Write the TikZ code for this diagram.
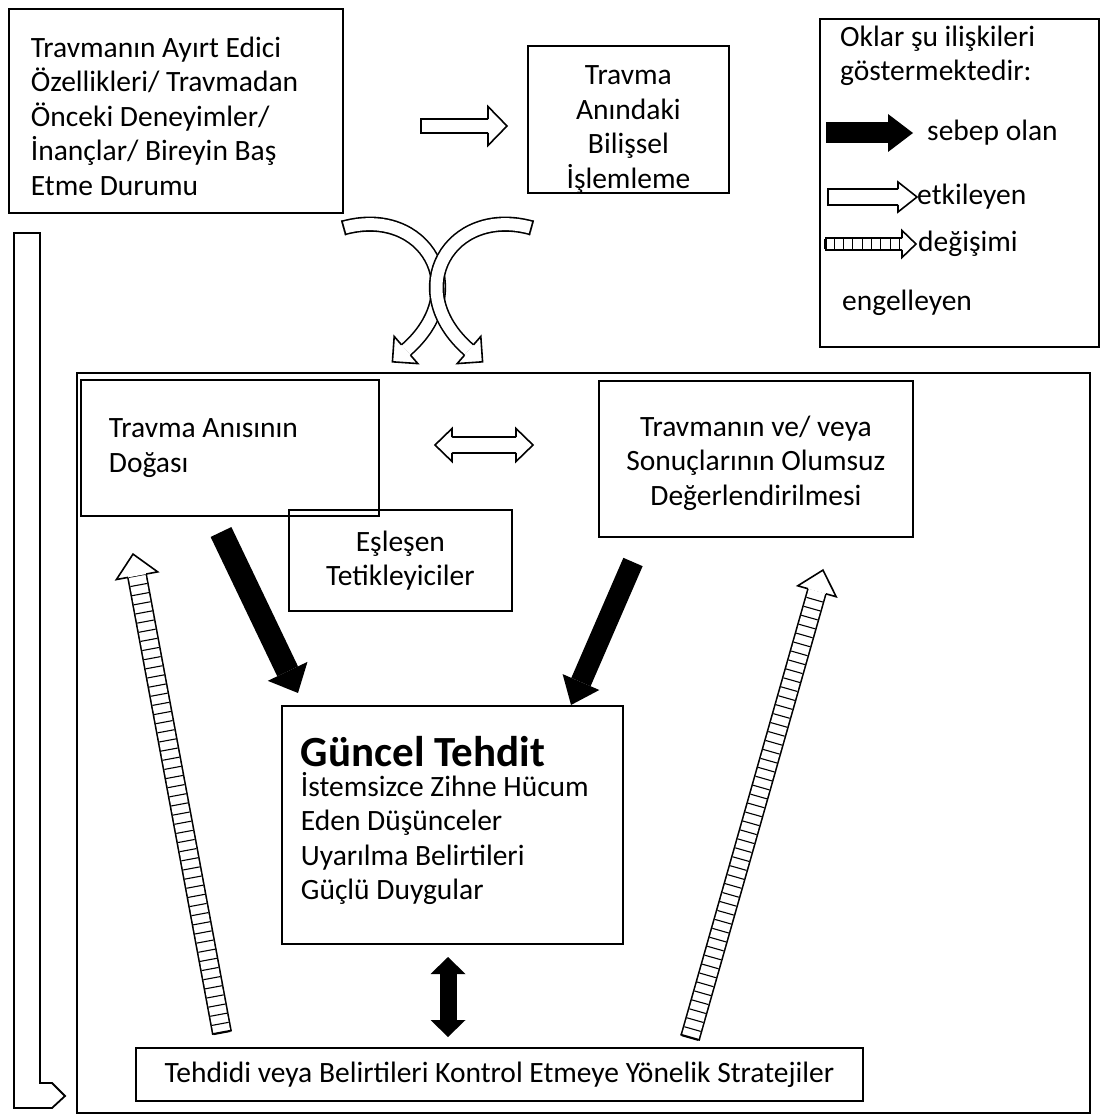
\documentclass[tikz,border=0pt]{standalone}
\usepackage{fontspec}
\setmainfont{Carlito}
\usepackage{tikz}
\usetikzlibrary{positioning}
\usetikzlibrary{calc}
\usetikzlibrary{decorations.markings}

% open arrow head: inner shaft width, head width, head length
\newcommand{\openhead}[3]{%
  \fill[white] (0pt,{-0.5*#2}) -- (#3,0pt) -- (0pt,{0.5*#2}) -- cycle;
  \draw[line width=1.6pt,line join=miter] (0pt,{0.5*#1+0.8pt}) -- (0pt,{0.5*#2}) -- (#3,0pt) -- (0pt,{-0.5*#2}) -- (0pt,{-0.5*#1-0.8pt});}

\tikzset{
    box/.style={draw,line width=1.8pt,inner sep=0pt,anchor=north west},
    hollow/.style={draw,line width=1.6pt,double=white,double distance=#1},
    tipopen/.style n args={3}{postaction={decorate,decoration={markings,
        mark=at position 0.9999 with {\openhead{#1}{#2}{#3}}}}},
    tailopen/.style n args={3}{postaction={decorate,decoration={markings,
        mark=at position 0 with {\begin{scope}[rotate=180]\openhead{#1}{#2}{#3}\end{scope}}}}},
    capped/.style={postaction={decorate,decoration={markings,
        mark=at position 0 with {\draw[line width=1.6pt] (0.8pt,{-0.5*#1-1.6pt}) -- (0.8pt,{0.5*#1+1.6pt});}}}},
    rungs/.style={postaction={decorate,decoration={markings,
        mark=between positions 0 and 1 step 9.3pt with {\draw[line width=1.1pt] (0pt,{-0.5*#1}) -- (0pt,{0.5*#1});}}}},
    fullhead/.style n args={2}{postaction={decorate,decoration={markings,
        mark=at position 0.9999 with {\fill (0pt,{-0.5*#1}) -- (#2,0pt) -- (0pt,{0.5*#1}) -- cycle;}}}},
    fullback/.style n args={2}{postaction={decorate,decoration={markings,
        mark=at position 0 with {\fill (0pt,{-0.5*#1}) -- (-#2,0pt) -- (0pt,{0.5*#1}) -- cycle;}}}}
}

\begin{document}
\begin{tikzpicture}[x=1pt,y=-1pt,font=\fontsize{29.5}{34.5}\selectfont]
    \useasboundingbox (0,0) rectangle (1101,1115);

    % boxes
    \node[box,minimum width=334pt,minimum height=204pt] (features) at (8,8) {};
    \node[text width=290pt,align=flush left,inner sep=0pt] (featurestext) at ($(features.center)+(0,5)$)
        {Travmanın Ayırt Edici\\ Özellikleri/ Travmadan\\ Önceki Deneyimler/\\ İnançlar/ Bireyin Baş\\ Etme Durumu};
    \node[box,minimum width=201pt,minimum height=147pt] (processing) at (527,45) {};
    \node[align=center,inner sep=0pt] (processingtext) at ($(processing.center)+(0,10)$)
        {Travma\\ Anındaki\\ Bilişsel\\ İşlemleme};
    \node[box,minimum width=279pt,minimum height=328pt] (legend) at (819,18) {};
    \node[box,minimum width=1013pt,minimum height=740pt] (frame) at (76,372) {};
    \node[box,minimum width=298pt,minimum height=136pt,text width=242pt,align=flush left] (memory) at (80,379)
        {Travma Anısının\\ Doğası};
    \node[box,minimum width=314pt,minimum height=156pt] (appraisal) at (598,380) {};
    \node[align=center,inner sep=0pt] (appraisaltext) at ($(appraisal.center)+(0,4)$)
        {Travmanın ve/ veya\\ Sonuçlarının Olumsuz\\ Değerlendirilmesi};
    \node[box,minimum width=223pt,minimum height=101pt,align=center] (triggers) at (288,509)
        {Eşleşen\\ Tetikleyiciler};
    \node[box,minimum width=341pt,minimum height=238pt] (threat) at (281,705) {};
    \node[text width=303pt,align=flush left,inner sep=0pt] (threattext) at ($(threat.center)+(0,-4)$)
        {{\fontsize{43}{45}\selectfont\bfseries Güncel Tehdit}\\[-5pt] İstemsizce Zihne Hücum\\ Eden Düşünceler\\ Uyarılma Belirtileri\\ Güçlü Duygular};
    \node[box,minimum width=727pt,minimum height=53pt] (strategies) at (135,1047)
        {Tehdidi veya Belirtileri Kontrol Etmeye Yönelik Stratejiler};

    % legend
    \node[anchor=west,align=flush left,inner sep=0pt] (legtitle) at (840,56) {Oklar şu ilişkileri\\ göstermektedir:};
    \coordinate (kbt) at (826,133);
    \coordinate (kbh) at (913,133);
    \coordinate (kwt) at (827,197);
    \coordinate (kwh) at (917,197);
    \coordinate (kst) at (825,244);
    \coordinate (ksh) at (916,244);
    \draw[line width=21pt,fullhead={38pt}{25pt}] (kbt) -- ($(kbh)!25pt!(kbt)$);
    \draw[hollow=14pt,capped=14pt,tipopen={14pt}{30pt}{19pt}] (kwt) -- ($(kwh)!19pt!(kwt)$);
    \draw[hollow=10pt,capped=10pt,rungs=10pt,tipopen={10pt}{27pt}{14pt}] (kst) -- ($(ksh)!14pt!(kst)$);
    \node[right=14pt of kbh,inner sep=0pt] (causes) {sebep olan};
    \node[right=0pt of kwh,inner sep=0pt] (affects) {etkileyen};
    \node[right=2pt of ksh,inner sep=0pt] (blocks) {değişimi};
    \node[anchor=west,inner sep=0pt] (blocks2) at (842,303) {engelleyen};

    % influence arrows
    \coordinate (ft) at (420,126);
    \coordinate (fh) at (507,126);
    \draw[hollow=12pt,capped=12pt,tipopen={12pt}{39pt}{19pt}] (ft) -- ($(fh)!19pt!(ft)$);
    \coordinate (ml) at (452,445);
    \coordinate (mr) at (516,445);
    \draw[hollow=14pt,tipopen={14pt}{33pt}{17pt},tailopen={14pt}{33pt}{17pt}] (ml) -- (mr);
    \coordinate (cl1) at (343,228);
    \coordinate (cl2) at (406,350);
    \coordinate (cr1) at (532,228);
    \coordinate (cr2) at (469,350);
    \draw[hollow=12pt,capped=12pt,tipopen={12pt}{36pt}{18pt}] (cl1) .. controls (425,205) and (475,290) .. (cl2);
    \draw[hollow=12pt,capped=12pt,tipopen={12pt}{36pt}{18pt}] (cr1) .. controls (450,205) and (400,290) .. (cr2);

    % causal arrows
    \coordinate (bl1) at (221,532);
    \coordinate (bl2) at (298,693);
    \coordinate (br1) at (633,562);
    \coordinate (br2) at (571,705);
    \draw[line width=23pt,fullhead={44pt}{24pt}] (bl1) -- ($(bl2)!24pt!(bl1)$);
    \draw[line width=21pt,fullhead={40pt}{25pt}] (br1) -- ($(br2)!25pt!(br1)$);
    \coordinate (vt) at (448,974);
    \coordinate (vb) at (448,1020);
    \draw[line width=17pt,fullhead={35pt}{17pt},fullback={35pt}{17pt}] (vt) -- (vb);

    % blocking arrows
    \coordinate (sl1) at (222,1033);
    \coordinate (sl2) at (133,554);
    \coordinate (sr1) at (690,1038);
    \coordinate (sr2) at (823,570);
    \draw[hollow=17pt,capped=17pt,rungs=17pt,tipopen={17pt}{42pt}{22pt}] (sl1) -- ($(sl2)!22pt!(sl1)$);
    \draw[hollow=17pt,capped=17pt,rungs=17pt,tipopen={17pt}{40pt}{22pt}] (sr1) -- ($(sr2)!22pt!(sr1)$);

    % bent arrow on the left
    \draw[line width=1.8pt,line join=miter] (14,233) -- (40,233) -- (40,1083) -- (52,1083) -- (65,1096)
        -- (52,1108) -- (14,1108) -- cycle;
\end{tikzpicture}
\end{document}
